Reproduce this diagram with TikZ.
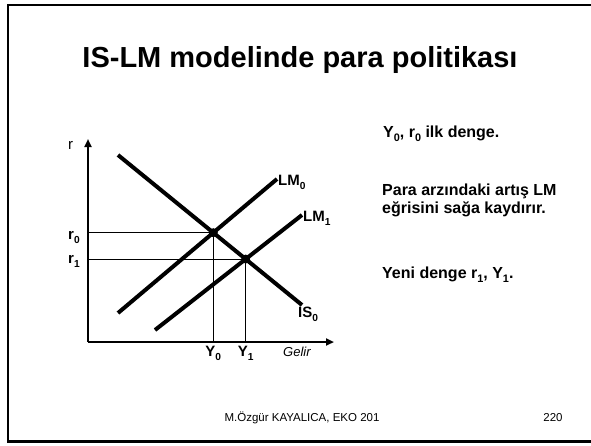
\documentclass[tikz,border=0pt]{standalone}
\usepackage{fontspec}
\setmainfont{Liberation Sans}
\usetikzlibrary{arrows.meta}
\newcommand\sbs[1]{\raisebox{-0.28em}{\fontsize{0.68em}{1em}\selectfont #1}}
\begin{document}
\begin{tikzpicture}[x=1pt,y=-1pt,
  curve/.style={line width=4pt},
  guide/.style={line width=0.8pt},
  axisline/.style={line width=2.2pt,-{Triangle[length=8pt,width=7pt]}},
  lab/.style={font=\fontsize{15}{17}\selectfont\bfseries,anchor=base west,inner sep=0pt},
  para/.style={font=\fontsize{16}{18}\selectfont\bfseries,anchor=base west,inner sep=0pt},
  foot/.style={font=\fontsize{11.5}{13}\selectfont,anchor=base,inner sep=0pt},
  dot/.style={circle,fill=black,inner sep=0pt,minimum size=9pt}]
\useasboundingbox (0,0) rectangle (591,445);
\fill[white] (0,0) rectangle (591,445);
\draw[line width=2.5pt] (600,5) -- (8,5) -- (8,441.5) -- (600,441.5);
% title
\node[font=\fontsize{29}{34}\selectfont\bfseries,anchor=base,inner sep=0pt] (title) at (300,67) {IS-LM modelinde para politikası};
% axes
\coordinate (O) at (88,342);
\coordinate (ytop) at (88,139);
\coordinate (xend) at (334,342);
\draw[axisline] (O) -- (ytop);
\draw[axisline] (O) -- (xend);
% curves endpoints
\coordinate (is1) at (118,155);
\coordinate (is2) at (302,305);
\coordinate (lma1) at (118,313);
\coordinate (lma2) at (277,179);
\coordinate (lmb1) at (155,330);
\coordinate (lmb2) at (302,215);
\coordinate (E0) at (intersection of is1--is2 and lma1--lma2);
\coordinate (E1) at (intersection of is1--is2 and lmb1--lmb2);
% guides
\draw[guide] (E0 -| O) -- (E0) -- (E0 |- O);
\draw[guide] (E1 -| O) -- (E1) -- (E1 |- O);
% curves
\draw[curve] (is1) -- (is2);
\draw[curve] (lma1) -- (lma2);
\draw[curve] (lmb1) -- (lmb2);
\node[dot] (d0) at (E0) {};
\node[dot] (d1) at (E1) {};
% labels
\node[font=\fontsize{15}{16}\selectfont,anchor=base west,inner sep=0pt] (rlab) at (68,149) {r};
\node[lab] (lm0) at (278,185) {LM\sbs{0}};
\node[lab] (lm1) at (303,221) {LM\sbs{1}};
\node[lab] (is0) at (298,317) {IS\sbs{0}};
\node[lab] (r0) at (68,239) {r\sbs{0}};
\node[lab] (r1) at (68,263) {r\sbs{1}};
\node[lab,anchor=base] (y0) at (E0 |- 0,356) {Y\sbs{0}};
\node[lab,anchor=base] (y1) at (E1 |- 0,356) {Y\sbs{1}};
\node[font=\fontsize{13}{15}\selectfont\itshape,anchor=base west,inner sep=0pt] (gelir) at (283,356) {Gelir};
% paragraph text
\node[para] (t1) at (383,137) {Y\sbs{0}, r\sbs{0} ilk denge.};
\node[para] (t2) at (382,195) {Para arzındaki artış LM};
\node[para] (t3) at (382,213) {eğrisini sağa kaydırır.};
\node[para] (t4) at (382,278) {Yeni denge r\sbs{1}, Y\sbs{1}.};
% footer
\node[foot] (f1) at (302,421) {M.Özgür KAYALICA, EKO 201};
\node[foot] (f2) at (553,421) {220};
\end{tikzpicture}
\end{document}
